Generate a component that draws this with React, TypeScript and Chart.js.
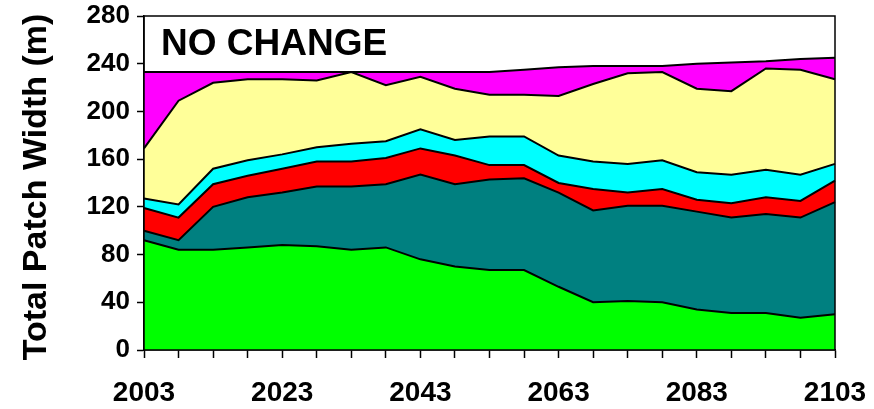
import React, { useEffect, useRef } from "react";
import { Chart, registerables } from "chart.js";

Chart.register(...registerables);

// ---- data ----
const years = [
  "2003", "2008", "2013", "2018", "2023", "2028", "2033", "2038", "2043", "2048",
  "2053", "2058", "2063", "2068", "2073", "2078", "2083", "2088", "2093", "2098", "2103",
];
const labeledYears = ["2003", "2023", "2043", "2063", "2083", "2103"];

// layer thicknesses (stacked bottom -> top)
const greenLayer = [92, 84, 84, 86, 88, 87, 84, 86, 76, 70, 67, 67, 53, 40, 41, 40, 34, 31, 31, 27, 30];
const tealLayer = [8, 8, 36, 42, 44, 50, 53, 53, 71, 69, 76, 77, 79, 77, 80, 81, 82, 80, 83, 84, 94];
const redLayer = [19, 19, 19, 18, 20, 21, 21, 22, 22, 24, 12, 11, 8, 18, 11, 14, 10, 12, 14, 14, 18];
const cyanLayer = [8, 11, 13, 13, 12, 12, 15, 14, 16, 13, 24, 24, 23, 23, 24, 24, 23, 24, 23, 22, 14];
const yellowLayer = [42, 87, 72, 68, 63, 56, 60, 47, 44, 43, 35, 35, 50, 65, 76, 74, 70, 70, 85, 88, 71];
const magentaLayer = [64, 24, 9, 6, 6, 7, 0, 11, 4, 14, 19, 21, 24, 15, 6, 5, 21, 24, 6, 9, 18];

const yMin = 0;
const yMax = 280;
const yStep = 40;

const panelLabel = "NO CHANGE";
const yAxisTitle = "Total Patch Width (m)";

const FONT = "'Liberation Sans', Arial, Helvetica, sans-serif";

const layers = [
  { data: greenLayer, color: "#00FF00" },
  { data: tealLayer, color: "#008080" },
  { data: redLayer, color: "#FF0000" },
  { data: cyanLayer, color: "#00FFFF" },
  { data: yellowLayer, color: "#FFFF99" },
  { data: magentaLayer, color: "#FF00FF" },
];

const decorPlugin = {
  id: "decor",
  afterDraw(chart: any) {
    const { ctx, chartArea } = chart;
    ctx.save();
    // frame
    ctx.strokeStyle = "#000";
    ctx.lineWidth = 1.5;
    ctx.strokeRect(chartArea.left, chartArea.top, chartArea.right - chartArea.left, chartArea.bottom - chartArea.top);
    // panel label
    ctx.fillStyle = "#000";
    ctx.font = `bold 37px ${FONT}`;
    ctx.textAlign = "left";
    ctx.textBaseline = "alphabetic";
    ctx.fillText(panelLabel, 161, 55);
    // y axis title
    ctx.translate(37, 187);
    ctx.rotate(-Math.PI / 2);
    ctx.font = `bold 34px ${FONT}`;
    ctx.textAlign = "center";
    ctx.textBaseline = "middle";
    ctx.fillText(yAxisTitle, 0, 0);
    ctx.restore();
  },
};

export default function App() {
  const ref = useRef<HTMLCanvasElement | null>(null);

  useEffect(() => {
    if (!ref.current) return;
    const chart = new Chart(ref.current, {
      type: "line",
      data: {
        labels: years,
        datasets: layers.map((l, i) => ({
          data: l.data,
          backgroundColor: l.color,
          borderColor: "#000",
          borderWidth: 2,
          pointRadius: 0,
          tension: 0,
          fill: i === 0 ? "origin" : "-1",
        })),
      },
      options: {
        responsive: false,
        animation: false,
        devicePixelRatio: 1,
        layout: { padding: { top: 16, right: 39, left: 0, bottom: 0 } },
        plugins: {
          legend: { display: false },
          tooltip: { enabled: false },
        },
        scales: {
          x: {
            offset: false,
            grid: {
              display: true,
              drawOnChartArea: false,
              drawTicks: true,
              tickLength: 8,
              tickWidth: 1.5,
              tickColor: "#000",
            },
            border: { display: true, color: "#000", width: 1.5 },
            ticks: {
              autoSkip: false,
              maxRotation: 0,
              padding: 18,
              color: "#000",
              font: { family: FONT, size: 28, weight: "bold" },
              callback: function (this: any, value: any) {
                const lab = years[value as number];
                return labeledYears.includes(lab) ? lab : "";
              },
            },
            afterFit(scale: any) {
              scale.height = 59;
              scale.paddingLeft = 0;
              scale.paddingRight = 0;
            },
          },
          y: {
            stacked: true,
            min: yMin,
            max: yMax,
            grid: {
              display: true,
              drawOnChartArea: false,
              drawTicks: true,
              tickLength: 7,
              tickWidth: 1.5,
              tickColor: "#000",
            },
            border: { display: true, color: "#000", width: 1.5 },
            ticks: {
              stepSize: yStep,
              padding: 7,
              color: "#000",
              font: { family: FONT, size: 26, weight: "bold" },
            },
            afterFit(scale: any) {
              scale.width = 144;
              scale.paddingTop = 0;
              scale.paddingBottom = 0;
            },
          },
        },
      } as any,
      plugins: [decorPlugin],
    });
    return () => chart.destroy();
  }, []);

  return (
    <div style={{ position: "absolute", left: 0, top: 0, width: 874, height: 409, background: "#fff" }}>
      <canvas ref={ref} width={874} height={409} />
    </div>
  );
}
